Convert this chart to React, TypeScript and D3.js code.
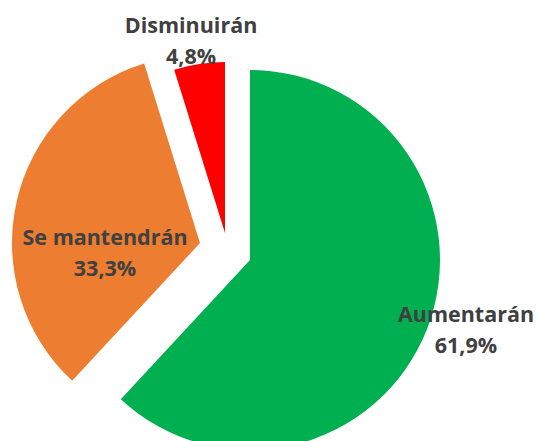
import * as d3 from 'd3';

const categories = ['Aumentarán', 'Se mantendrán', 'Disminuirán'];
const values = [61.9, 33.3, 4.8];
const valueLabels = ['61,9%', '33,3%', '4,8%'];
const colors = ['#00B050', '#ED7D31', '#FF0000'];

const width = 539;
const height = 441;
const center = { x: 216, y: 247 };

// exploded slices: shift of the apex from the pie centre, outer radius
const sliceShift = [
  { dx: 34, dy: 13, r: 190 },
  { dx: -16, dy: -4, r: 188 },
  { dx: 9, dy: -14, r: 171 },
];

// label placement relative to the slice apex (degrees off the mid angle, distance)
const labelPolar = [
  { da: -3.5, dist: 227 },
  { da: -18.7, dist: 95.5 },
  { da: -1.4, dist: 195 },
];

export default function App() {
  const pie = d3
    .pie<number>()
    .sort(null)
    .startAngle(0)
    .endAngle(2 * Math.PI)
    .value((d) => d);
  const arcs = pie(values);

  return (
    <svg
      width={width}
      height={height}
      style={{ position: 'absolute', left: 0, top: 0, background: '#fff' }}
      fontFamily="'Open Sans', sans-serif"
    >
      {arcs.map((a, i) => {
        const s = sliceShift[i];
        const ax = center.x + s.dx;
        const ay = center.y + s.dy;
        const path = d3.arc<d3.PieArcDatum<number>>().innerRadius(0).outerRadius(s.r)(a) || '';
        return (
          <path
            key={categories[i]}
            d={path}
            transform={`translate(${ax},${ay})`}
            fill={colors[i]}
          />
        );
      })}
      {arcs.map((a, i) => {
        const s = sliceShift[i];
        const lp = labelPolar[i];
        const mid = (a.startAngle + a.endAngle) / 2 + (lp.da * Math.PI) / 180;
        const lx = center.x + s.dx + lp.dist * Math.sin(mid);
        const ly = center.y + s.dy - lp.dist * Math.cos(mid);
        return (
          <text
            key={'l' + categories[i]}
            x={lx}
            y={ly}
            textAnchor="middle"
            fontSize={21.5}
            fontWeight={700}
            fill="#404040"
          >
            <tspan x={lx} y={ly - 7.75}>
              {categories[i]}
            </tspan>
            <tspan x={lx} y={ly + 23.25}>
              {valueLabels[i]}
            </tspan>
          </text>
        );
      })}
    </svg>
  );
}
